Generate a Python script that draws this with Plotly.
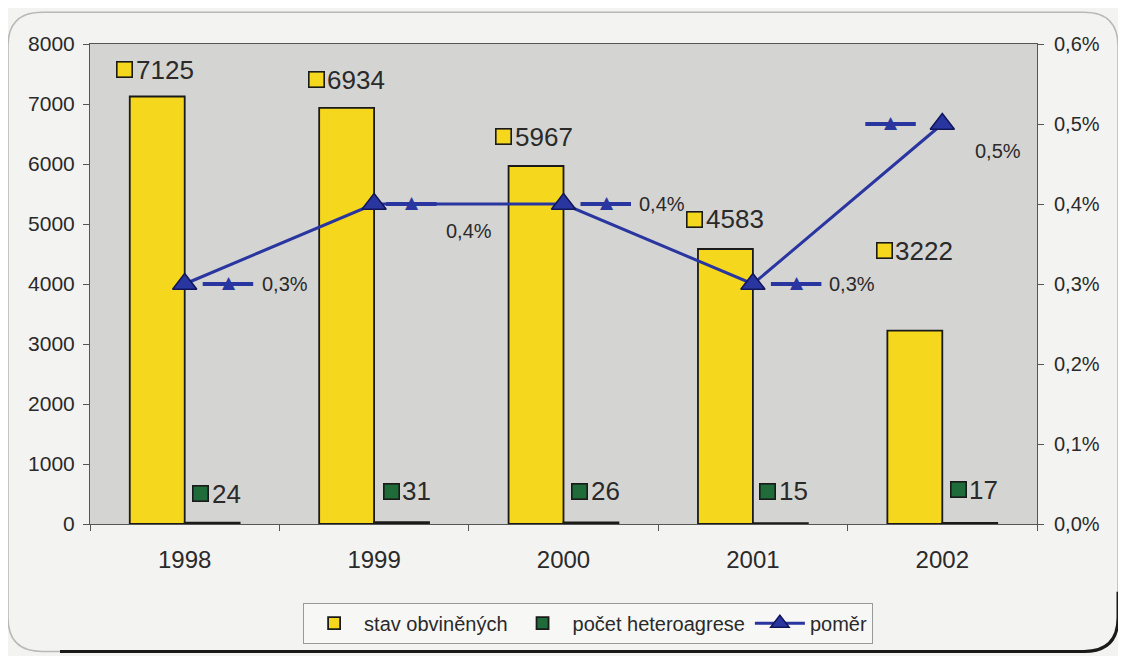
import plotly.graph_objects as go

# ---- data ----
years = ["1998", "1999", "2000", "2001", "2002"]
stav_obvinenych = [7125, 6934, 5967, 4583, 3222]
pocet_heteroagrese = [24, 31, 26, 15, 17]
pomer = [0.003, 0.004, 0.004, 0.003, 0.005]
left_ticks = [0, 1000, 2000, 3000, 4000, 5000, 6000, 7000, 8000]
right_ticks = [0.0, 0.001, 0.002, 0.003, 0.004, 0.005, 0.006]


def pct(v):
    return f"{v * 100:.1f}%".replace(".", ",")


pomer_labels = [pct(v) for v in pomer]
right_ticktext = [pct(v) for v in right_ticks]

# ---- style ----
OFF = 8                      # default page body margin of the html page
W, H = 1126 - 2 * OFF, 664 - 2 * OFF
ML, MR, MT, MB = 82, 81, 36, 130
FONT = "Liberation Sans, Arial, sans-serif"
YELLOW = "#F5D81E"
GREEN = "#1F6B3A"
BLUE = "#2A36A0"
TXT = "#2a2a2a"

# label offsets (pixels) relative to the data point
yel_shift = [(-60, 27), (-58, 28), (-60, 29), (-58, 30), (-58, 80)]
grn_shift = [(16, 29), (17, 31), (16, 31), (15, 32), (16, 33)]
# (key_dx, key_dy, text_dx, text_dy)
line_shift = [(44, 0, 75, 0), (38, 0, 70, -27), (43, 0, 73, 0), (44, 0, 74, 0), (-51, 0, 31, -27)]
KEY_LEN = 52

fig = go.Figure()
fig.add_trace(go.Bar(
    x=years, y=stav_obvinenych, name="stav obviněných",
    marker=dict(color=YELLOW, line=dict(color="#1a1a1a", width=1.8)),
))
fig.add_trace(go.Bar(
    x=years, y=pocet_heteroagrese, name="počet heteroagrese",
    marker=dict(color=GREEN, line=dict(color="#1a1a1a", width=1.8)),
))
fig.add_trace(go.Scatter(
    x=years, y=pomer, name="poměr", yaxis="y2", mode="lines+markers",
    line=dict(color=BLUE, width=3),
    marker=dict(symbol="triangle-up", size=21, color=BLUE,
                line=dict(color="#10155a", width=1.5)),
))

ann = []
for i, yr in enumerate(years):
    ci = i  # category index on the category axis
    dx, dy = yel_shift[i]
    ann.append(dict(x=ci, y=stav_obvinenych[i], xref="x", yref="y", text=" ",
                    width=14, height=14, bgcolor=YELLOW, bordercolor="#1a1a1a",
                    borderwidth=1.6, borderpad=0, showarrow=False,
                    xshift=dx, yshift=dy))
    ann.append(dict(x=ci, y=stav_obvinenych[i], xref="x", yref="y",
                    text=str(stav_obvinenych[i]), showarrow=False, xanchor="left",
                    xshift=dx + 9, yshift=dy, font=dict(size=26, color=TXT, family=FONT)))
    gx, gy = grn_shift[i]
    ann.append(dict(x=ci, y=pocet_heteroagrese[i], xref="x", yref="y", text=" ",
                    width=14, height=14, bgcolor=GREEN, bordercolor="#1a1a1a",
                    borderwidth=1.6, borderpad=0, showarrow=False,
                    xshift=gx, yshift=gy))
    ann.append(dict(x=ci, y=pocet_heteroagrese[i], xref="x", yref="y",
                    text=str(pocet_heteroagrese[i]), showarrow=False, xanchor="left",
                    xshift=gx + 9, yshift=gy, font=dict(size=26, color=TXT, family=FONT)))
    kx, ky, tx, ty = line_shift[i]
    # key: a short blue line with a triangle in its middle
    ann.append(dict(x=ci, y=pomer[i], xref="x", yref="y2", text="",
                    showarrow=True, arrowhead=0, arrowwidth=4, arrowcolor=BLUE,
                    ax=KEY_LEN, ay=0, standoff=0, startstandoff=0,
                    xshift=kx - KEY_LEN / 2, yshift=ky))
    ann.append(dict(x=ci, y=pomer[i], xref="x", yref="y2",
                    text="▲", showarrow=False, xshift=kx, yshift=ky + 2,
                    font=dict(size=17, color=BLUE, family="DejaVu Sans")))
    ann.append(dict(x=ci, y=pomer[i], xref="x", yref="y2",
                    text=pomer_labels[i], showarrow=False, xanchor="left",
                    xshift=tx, yshift=ty, font=dict(size=20, color=TXT, family=FONT)))

# decorative rounded frame (paper coordinates converted from page pixels)
pw, ph = W - ML - MR, H - MT - MB


def px(x):
    return (x - OFF - ML) / pw


def py(y):
    return (H - MB - (y - OFF)) / ph


L, R, T, B, r = 8, 1118, 12, 654, 34
frame = (f"M {px(L)},{py(T + r)} Q {px(L)},{py(T)} {px(L + r)},{py(T)} "
         f"L {px(R - r)},{py(T)} Q {px(R)},{py(T)} {px(R)},{py(T + r)} "
         f"L {px(R)},{py(B - r)} Q {px(R)},{py(B)} {px(R - r)},{py(B)} "
         f"L {px(L + r)},{py(B)} Q {px(L)},{py(B)} {px(L)},{py(B - r)} Z")
dark = (f"M {px(60)},{py(B)} L {px(R - r)},{py(B)} Q {px(R)},{py(B)} {px(R)},{py(B - r)} "
        f"L {px(R)},{py(B - 60)}")
shapes = [
    dict(type="path", path=frame, xref="paper", yref="paper",
         line=dict(color="#b8b8b8", width=1.5), layer="below"),
    dict(type="path", path=dark, xref="paper", yref="paper",
         line=dict(color="#1a1a1a", width=3), layer="above"),
]

fig.update_layout(
    width=W, height=H,
    margin=dict(l=ML, r=MR, t=MT, b=MB),
    paper_bgcolor="#F3F3F1", plot_bgcolor="#D4D4D2",
    barmode="group", bargap=0.42, bargroupgap=0.0,
    font=dict(family=FONT, color=TXT),
    showlegend=True,
    legend=dict(orientation="h", x=0.526, xanchor="center", y=-0.164, yanchor="top",
                bgcolor="#F7F7F5", bordercolor="#999999", borderwidth=1,
                itemwidth=50,
                font=dict(size=20, family=FONT, color=TXT), traceorder="normal"),
    xaxis=dict(type="category", categoryorder="array", categoryarray=years,
               range=[-0.5, len(years) - 0.5],
               showline=True, linecolor="#555", linewidth=1,
               mirror=True, ticks="outside", ticklen=6, tickcolor="#555",
               tickson="boundaries", ticklabelstandoff=14,
               tickfont=dict(size=24, family=FONT, color=TXT),
               showgrid=False),
    yaxis=dict(range=[0, 8000], tickvals=left_ticks, showline=True, linecolor="#555",
               ticks="outside", ticklen=6, tickcolor="#555", showgrid=False,
               ticklabelstandoff=4,
               zeroline=False, tickfont=dict(size=21, family=FONT, color=TXT)),
    yaxis2=dict(range=[0, 0.006], tickvals=right_ticks, ticktext=right_ticktext,
                overlaying="y", side="right",
                showline=True, linecolor="#555", ticks="outside", ticklen=6,
                tickcolor="#555", showgrid=False, zeroline=False,
                ticklabelstandoff=6,
                tickfont=dict(size=20, family=FONT, color=TXT)),
    annotations=ann,
    shapes=shapes,
)

fig.write_html("out.html")
